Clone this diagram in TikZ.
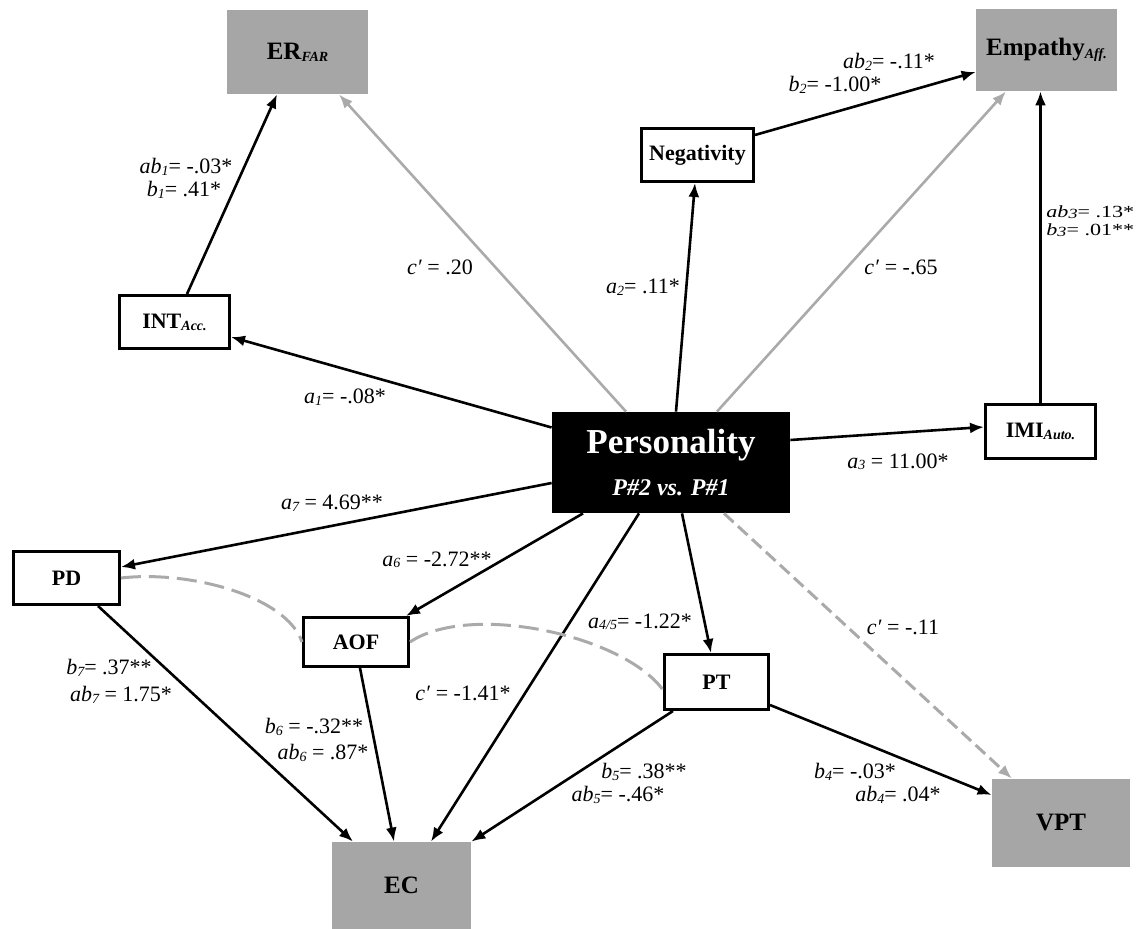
\documentclass[tikz,border=0pt]{standalone}
\usepackage{fontspec}
\setmainfont{Liberation Serif}
\usetikzlibrary{calc,arrows.meta}

\definecolor{boxgray}{RGB}{166,166,166}
\definecolor{linegray}{RGB}{170,170,170}

\newcommand{\nsub}[1]{\raisebox{-0.2ex}{\fontsize{7}{7}\selectfont\bfseries\itshape #1}}
\newcommand{\lsub}[1]{\raisebox{-0.15ex}{\fontsize{7}{7}\selectfont\itshape #1}}

\begin{document}
\begin{tikzpicture}[x=0.5pt,y=-0.5pt,
  outc/.style={fill=boxgray, inner sep=0pt, font=\fontsize{12.5}{14}\selectfont\bfseries},
  med/.style={draw, fill=white, line width=1.5pt, inner sep=0pt, font=\fontsize{11}{13}\selectfont\bfseries},
  arr/.style={-{Latex[length=7pt,width=5.5pt]}, line width=1.3pt},
  garr/.style={arr, draw=linegray},
  dgarr/.style={garr, line width=1.5pt, dash pattern=on 6.5pt off 3pt},
  cov/.style={draw=linegray, line width=1.5pt, dash pattern=on 10pt off 4pt},
  lbl/.style={inner sep=0pt, font=\fontsize{11}{13}\selectfont}]

  \useasboundingbox (0,0) rectangle (1136,929);

  % outcomes
  \node[outc, minimum width=70.5pt, minimum height=42pt] (ER) at (297.5,52) {ER\nsub{FAR}};
  \node[outc, minimum width=70.5pt, minimum height=41pt] (Emp) at (1046.5,50) {Empathy\nsub{Aff.}};
  \node[outc, minimum width=69.5pt, minimum height=43.5pt] (EC) at (401.5,885.5) {EC};
  \node[outc, minimum width=69pt, minimum height=44pt] (VPT) at (1061,823) {VPT};

  % mediators
  \node[med, minimum width=55pt, minimum height=26.5pt] (INT) at (174.5,322) {INT\nsub{Acc.}};
  \node[med, minimum width=56pt, minimum height=26.5pt] (Neg) at (697.5,155) {Negativity};
  \node[med, minimum width=55pt, minimum height=27pt] (IMI) at (1040.5,431.5) {IMI\nsub{Auto.}};
  \node[med, minimum width=53pt, minimum height=26.5pt] (PD) at (66.5,578) {PD};
  \node[med, minimum width=52.5pt, minimum height=24.5pt] (AOF) at (356,642) {AOF};
  \node[med, minimum width=52pt, minimum height=27.5pt] (PT) at (716.5,682) {PT};

  % predictor
  \node[fill=black, text=white, inner sep=0pt, align=center, minimum width=119pt, minimum height=50.5pt,
        font=\fontsize{17.5}{21}\selectfont\bfseries] (Pers) at (671,462.5)
    {Personality\\\fontsize{12}{21}\selectfont\itshape P\#2 vs. P\#1};

  \draw[arr] ($(Pers.west)+(0,-35)$) -- ($(INT.east)+(0,15)$);
  \draw[arr] ($(INT.north)+(12.5,0)$) -- ($(ER.south)+(-20.5,0)$);
  \draw[garr] ($(Pers.north)+(-45,0)$) -- ($(ER.south)+(41.5,0)$);
  \draw[arr] ($(Pers.north)+(5,0)$) -- ($(Neg.south)+(-2.5,0)$);
  \draw[arr] ($(Neg.east)+(0,-20)$) -- ($(Emp.west)+(0,22)$);
  \draw[garr] ($(Pers.north)+(46,0)$) -- ($(Emp.south)+(-40.5,0)$);
  \draw[arr] ($(Pers.east)+(0,-22.5)$) -- ($(IMI.west)+(0,-4.5)$);
  \draw[arr] (IMI.north) -- (IMI.north |- Emp.south);
  \draw[arr] ($(Pers.west)+(0,20.5)$) -- ($(PD.east)+(0,-11)$);
  \draw[arr] ($(Pers.south)+(-88,0)$) -- ($(AOF.north)+(50,0)$);
  \draw[arr] ($(Pers.south)+(-32,0)$) -- ($(EC.north)+(29.5,0)$);
  \draw[arr] ($(Pers.south)+(11,0)$) -- ($(PT.north)+(-5.5,0)$);
  \draw[dgarr] ($(Pers.south)+(53,0)$) -- ($(VPT.north)+(-49,0)$);
  \draw[arr] ($(PD.south)+(31.5,0)$) -- ($(EC.north)+(-48.5,0)$);
  \draw[arr] ($(AOF.south)+(4,0)$) -- ($(EC.north)+(-7.5,0)$);
  \draw[arr] ($(PT.south)+(-43.5,0)$) -- (EC.north east);
  \draw[arr] ($(PT.east)+(0,23)$) -- ($(VPT.west)+(0,-28)$);
  \draw[cov] (PD.east) .. controls +(70,-8) and +(-15,-45) .. (AOF.west);
  \draw[cov] (AOF.east) .. controls +(60,-40) and +(-40,-55) .. ($(PT.west)+(0,8)$);

  % path labels
  \node[lbl] (ab1) at (186,167) {\textit{ab}\lsub{1}= -.03*};
  \node[lbl] (b1) at (184,190) {\textit{b}\lsub{1}= .41*};
  \node[lbl] (c1) at (440,267) {\textit{c′} = .20};
  \node[lbl] (a1) at (345,397) {\textit{a}\lsub{1}= -.08*};
  \node[lbl] (a2) at (643,287) {\textit{a}\lsub{2}= .11*};
  \node[lbl] (c2) at (901,267) {\textit{c′} = -.65};
  \node[lbl] (ab2) at (889,62) {\textit{ab}\lsub{2}= -.11*};
  \node[lbl] (b2) at (835,85) {\textit{b}\lsub{2}= -1.00*};
  \node[lbl, anchor=west, font=\fontsize{8.5}{10}\selectfont] (ab3) at (1046,212) {\scalebox{1.3}[1]{\textit{ab}\lsub{3}= .13*}};
  \node[lbl, anchor=west, font=\fontsize{8.5}{10}\selectfont] (b3) at (1046,230) {\scalebox{1.3}[1]{\textit{b}\lsub{3}= .01**}};
  \node[lbl] (a3) at (898,462) {\textit{a}\lsub{3} = 11.00*};
  \node[lbl] (a7) at (332,503) {\textit{a}\lsub{7} = 4.69**};
  \node[lbl] (a6) at (437,560) {\textit{a}\lsub{6} = -2.72**};
  \node[lbl] (b7) at (109,668) {\textit{b}\lsub{7}= .37**};
  \node[lbl] (ab7) at (121,695) {\textit{ab}\lsub{7} = 1.75*};
  \node[lbl] (b6) at (314,727) {\textit{b}\lsub{6} = -.32**};
  \node[lbl] (ab6) at (323,753) {\textit{ab}\lsub{6} = .87*};
  \node[lbl] (c3) at (463,693) {\textit{c′} = -1.41*};
  \node[lbl] (a45) at (640,622) {\textit{a}\lsub{4/5}= -1.22*};
  \node[lbl] (c4) at (903,627) {\textit{c′} = -.11};
  \node[lbl] (b5) at (644,772) {\textit{b}\lsub{5}= .38**};
  \node[lbl] (ab5) at (618,795) {\textit{ab}\lsub{5}= -.46*};
  \node[lbl] (b4) at (855,772) {\textit{b}\lsub{4}= -.03*};
  \node[lbl] (ab4) at (898,795) {\textit{ab}\lsub{4}= .04*};
\end{tikzpicture}
\end{document}
